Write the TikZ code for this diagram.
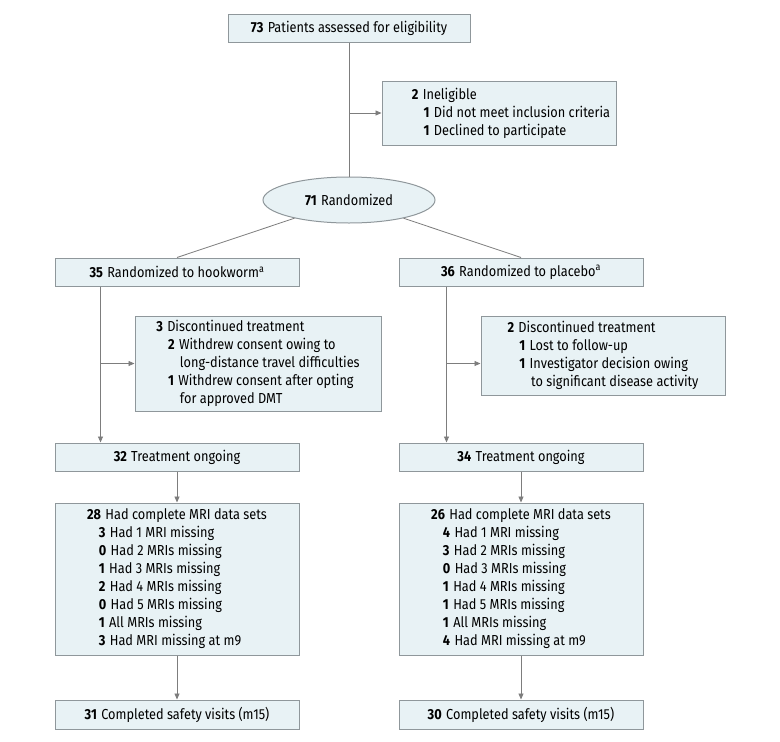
\documentclass[tikz,border=0pt]{standalone}
\usepackage{fontspec}
\setmainfont{Fira Sans}[FakeStretch=0.88]
\usepackage{tikz}
\usetikzlibrary{arrows.meta, shapes.geometric}

\definecolor{boxfill}{HTML}{E8F2F5}
\definecolor{boxline}{HTML}{8F979B}
\definecolor{flowline}{HTML}{7D7D7D}

% count in bold, then the text
\newcommand{\nr}[2]{\textbf{#1}\hspace{0.3em}#2}
\newcommand{\subnr}[2]{\hphantom{\textbf{0}\hspace{0.3em}}\nr{#1}{#2}}
\newcommand{\subcont}[1]{\hphantom{\textbf{0}\hspace{0.3em}\textbf{0}\hspace{0.3em}}#1}

\begin{document}
\begin{tikzpicture}[x=1pt, y=-1pt, font=\fontsize{14.5}{18}\selectfont]
\useasboundingbox (0,0) rectangle (780,742);
\begin{scope}[every node/.style={rectangle, draw=boxline, fill=boxfill, line width=1pt,
              align=left, inner sep=0pt, minimum width=244pt, minimum height=28pt}]
  \node (screen) at (349,28) [minimum width=242pt] {\nr{73}{Patients assessed for eligibility}};
  \node (inelig) at (499,113) [minimum width=234pt, minimum height=64pt]
    {\hspace*{24pt}\nr{2}{Ineligible}\\
     \hspace*{24pt}\subnr{1}{Did not meet inclusion criteria}\\
     \hspace*{24pt}\subnr{1}{Declined to participate}};
  \node[shape=ellipse, minimum width=172pt, minimum height=46pt] (rand) at (349,200) {\nr{71}{Randomized}};

  \node (hook) at (177,272) {\nr{35}{Randomized to hookworm\textsuperscript{a}}};
  \node (plac) at (521,272) {\nr{36}{Randomized to placebo\textsuperscript{a}}};

  \node (disH) at (258,363.5) [minimum width=246pt, minimum height=95pt]
    {\nr{3}{Discontinued treatment}\\
     \subnr{2}{Withdrew consent owing to}\\
     \subcont{long-distance travel difficulties}\\
     \subnr{1}{Withdrew consent after opting}\\
     \subcont{for approved DMT}};
  \node (disP) at (603,355.5) [minimum height=79pt]
    {\nr{2}{Discontinued treatment}\\
     \subnr{1}{Lost to follow-up}\\
     \subnr{1}{Investigator decision owing}\\
     \subcont{to significant disease activity}};

  \node (ongH) at (177,457) {\nr{32}{Treatment ongoing}};
  \node (ongP) at (521,457) {\nr{34}{Treatment ongoing}};

  \node (mriH) at (177,579) [minimum height=152pt]
    {\nr{28}{Had complete MRI data sets}\\
     \subnr{3}{Had 1 MRI missing}\\
     \subnr{0}{Had 2 MRIs missing}\\
     \subnr{1}{Had 3 MRIs missing}\\
     \subnr{2}{Had 4 MRIs missing}\\
     \subnr{0}{Had 5 MRIs missing}\\
     \subnr{1}{All MRIs missing}\\
     \subnr{3}{Had MRI missing at m9}};
  \node (mriP) at (521,579) [minimum height=152pt]
    {\nr{26}{Had complete MRI data sets}\\
     \subnr{4}{Had 1 MRI missing}\\
     \subnr{3}{Had 2 MRIs missing}\\
     \subnr{0}{Had 3 MRIs missing}\\
     \subnr{1}{Had 4 MRIs missing}\\
     \subnr{1}{Had 5 MRIs missing}\\
     \subnr{1}{All MRIs missing}\\
     \subnr{4}{Had MRI missing at m9}};

  \node (safeH) at (177,714.5) [minimum height=29pt] {\nr{31}{Completed safety visits (m15)}};
  \node (safeP) at (521,714.5) [minimum height=29pt] {\nr{30}{Completed safety visits (m15)}};
\end{scope}

\coordinate (hookA) at ([xshift=46pt]hook.south west);
\coordinate (placA) at ([xshift=48pt]plac.south west);
\coordinate (placB) at (placA |- disH.west);

\begin{scope}[>={Triangle[length=6pt, width=5pt]},
              every edge/.style={draw=flowline, line width=0.8pt}]
    \path (screen) edge (rand);
    \path[->] (screen |- inelig.west) edge (inelig.west);
    \path (rand) edge (hook.north);
    \path (rand) edge (plac.north);
    \path[->] (hookA) edge (hookA |- ongH.north);
    \path[->] (hookA |- disH.west) edge (disH.west);
    \path[->] (placA) edge (placA |- ongP.north);
    \path[->] (placB) edge (placB -| disP.west);
    \path[->] (ongH) edge (mriH);
    \path[->] (ongP) edge (mriP);
    \path[->] (mriH) edge (safeH);
    \path[->] (mriP) edge (safeP);
\end{scope}

\end{tikzpicture}
\end{document}
